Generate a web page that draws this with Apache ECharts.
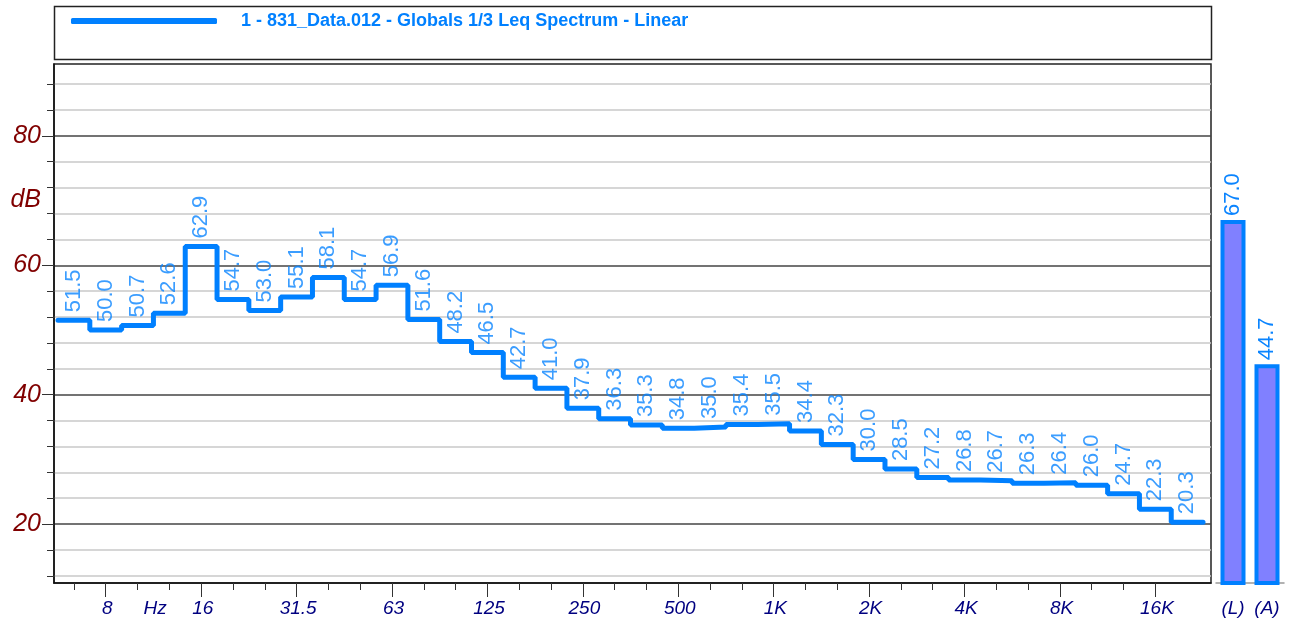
<!DOCTYPE html>
<html>
<head>
<meta charset="utf-8">
<script src="https://cdn.jsdelivr.net/npm/echarts@6/dist/echarts.min.js"></script>
<style>
  html, body { margin: 0; padding: 0; background: #fff; }
  #main { width: 1296px; height: 626px; }
</style>
</head>
<body>
<div id="main"></div>
<script>
  // 1/3 octave bands, 6.3 Hz .. 20 kHz
  var bands = ['6.3', '8', '10', '12.5', '16', '20', '25', '31.5', '40', '50', '63', '80', '100', '125',
    '160', '200', '250', '315', '400', '500', '630', '800', '1K', '1.25K', '1.6K', '2K', '2.5K', '3.15K',
    '4K', '5K', '6.3K', '8K', '10K', '12.5K', '16K', '20K'];
  var levels = [51.5, 50.0, 50.7, 52.6, 62.9, 54.7, 53.0, 55.1, 58.1, 54.7, 56.9, 51.6, 48.2, 46.5,
    42.7, 41.0, 37.9, 36.3, 35.3, 34.8, 35.0, 35.4, 35.5, 34.4, 32.3, 30.0, 28.5, 27.2,
    26.8, 26.7, 26.3, 26.4, 26.0, 24.7, 22.3, 20.3];
  var xTickLabels = ['8', 'Hz', '16', '31.5', '63', '125', '250', '500', '1K', '2K', '4K', '8K', '16K'];
  var yMajorTicks = [20, 40, 60, 80];
  var yMinorTicks = [12, 16, 24, 28, 32, 36, 44, 48, 52, 56, 64, 68, 72, 76, 84, 88];
  var overallNames = ['(L)', '(A)'];
  var overallValues = [67.0, 44.7];
  var seriesName = '1 - 831_Data.012 - Globals 1/3 Leq Spectrum - Linear';

  var blue = '#0080ff';
  var labelBlue = '#0a84ff';
  var font = 'Liberation Sans, Arial, sans-serif';

  // step line points (band edges) and label points (band centres)
  var stepData = levels.map(function (v, i) { return [i, v]; });
  stepData.push([levels.length, levels[levels.length - 1]]);
  var labelData = levels.map(function (v, i) { return [i + 0.5, v]; });

  // x ticks: every band centre except the last, major ones on labelled octaves
  var labelPos = xTickLabels.map(function (l) { return l === 'Hz' ? 3.05 : bands.indexOf(l) + 0.55; });
  var majorX = [], minorX = [];
  for (var i = 0; i < bands.length - 1; i++) {
    if (xTickLabels.indexOf(bands[i]) >= 0) majorX.push(i + 0.5); else minorX.push(i + 0.5);
  }

  var yMin = 10.9, yMax = 91.1, xMin = -0.126, xMax = 36.25;

  var valueLabel = {
    show: true, position: 'top', distance: 8, rotate: 90,
    align: 'left', verticalAlign: 'middle',
    color: labelBlue, fontSize: 22, fontFamily: font,
    textBorderWidth: 0
  };

  var option = {
    animation: false,
    legend: {
      data: [seriesName],
      left: 66, top: 7,
      icon: 'roundRect',
      itemWidth: 146, itemHeight: 6,
      textStyle: { color: blue, fontWeight: 'bold', fontSize: 18, fontFamily: font, padding: [0, 0, 0, 19] }
    },
    graphic: [{
      type: 'rect', shape: { x: 54.5, y: 6.5, width: 1157, height: 53 },
      style: { fill: 'none', stroke: '#222', lineWidth: 1.5 }, silent: true
    }],
    grid: [
      { left: 54, top: 64, width: 1157, height: 519, show: true, borderColor: '#222', borderWidth: 1.5 },
      { left: 1216, top: 64, width: 68, height: 519 }
    ],
    xAxis: [
      {
        type: 'value', gridIndex: 0, min: xMin, max: xMax,
        axisLine: { onZero: false, lineStyle: { color: '#111', width: 1.5 } },
        axisTick: { customValues: minorX, length: 7, lineStyle: { color: '#333' } },
        axisLabel: {
          customValues: labelPos, margin: 16,
          color: '#000080', fontStyle: 'italic', fontSize: 19, fontFamily: font,
          formatter: function (v) {
            for (var k = 0; k < labelPos.length; k++) if (Math.abs(labelPos[k] - v) < 1e-6) return xTickLabels[k];
            return '';
          }
        },
        splitLine: { show: false }
      },
      {
        type: 'value', gridIndex: 0, min: xMin, max: xMax, position: 'bottom',
        axisLine: { show: false, onZero: false },
        axisTick: { customValues: majorX, length: 14, lineStyle: { color: '#333' } },
        axisLabel: { show: false },
        splitLine: { show: false }
      },
      {
        type: 'category', gridIndex: 1, data: overallNames,
        axisLine: { onZero: false, lineStyle: { color: '#999', width: 1.5 } },
        axisTick: { show: false },
        axisLabel: { margin: 16, color: '#000080', fontStyle: 'italic', fontSize: 19, fontFamily: font }
      }
    ],
    yAxis: [
      {
        type: 'value', gridIndex: 0, min: yMin, max: yMax, position: 'left',
        axisLine: { show: true, onZero: false, lineStyle: { color: '#111', width: 1.5 } },
        axisTick: { customValues: yMinorTicks, length: 7, lineStyle: { color: '#333' } },
        axisLabel: {
          customValues: [20, 40, 60, 70, 80], margin: 13,
          color: '#800000', fontStyle: 'italic', fontSize: 25, fontFamily: font,
          formatter: function (v) { return v === 70 ? 'dB' : String(v); }
        },
        splitLine: { show: true, lineStyle: { color: '#c8c8c8', width: 1.5 } }
      },
      {
        type: 'value', gridIndex: 0, min: yMin, max: yMax, position: 'left',
        axisLine: { show: false, onZero: false },
        axisTick: { customValues: yMajorTicks, length: 12, lineStyle: { color: '#333' } },
        axisLabel: { show: false },
        splitLine: { show: true, lineStyle: { color: '#444', width: 1.5 } }
      },
      {
        type: 'value', gridIndex: 1, min: yMin, max: yMax, show: false,
        splitLine: { show: false }
      }
    ],
    series: [
      {
        name: seriesName, type: 'line', step: 'end',
        xAxisIndex: 0, yAxisIndex: 0,
        symbol: 'none', color: blue,
        lineStyle: { color: blue, width: 5, cap: 'round' },
        data: stepData, z: 3
      },
      {
        name: 'labels', type: 'scatter',
        xAxisIndex: 0, yAxisIndex: 0,
        symbolSize: 0, silent: true,
        label: Object.assign({}, valueLabel, {
          formatter: function (p) { return p.value[1].toFixed(1); }
        }),
        data: labelData, z: 4
      },
      {
        name: 'overall', type: 'bar',
        xAxisIndex: 2, yAxisIndex: 2,
        barWidth: 25,
        itemStyle: { color: '#8080ff', borderColor: blue, borderWidth: 4 },
        label: Object.assign({}, valueLabel, {
          distance: 4,
          formatter: function (p) { return p.value.toFixed(1); }
        }),
        data: overallValues
      }
    ]
  };

  var myChart = echarts.init(document.getElementById('main'));
  myChart.setOption(option);
</script>
</body>
</html>
